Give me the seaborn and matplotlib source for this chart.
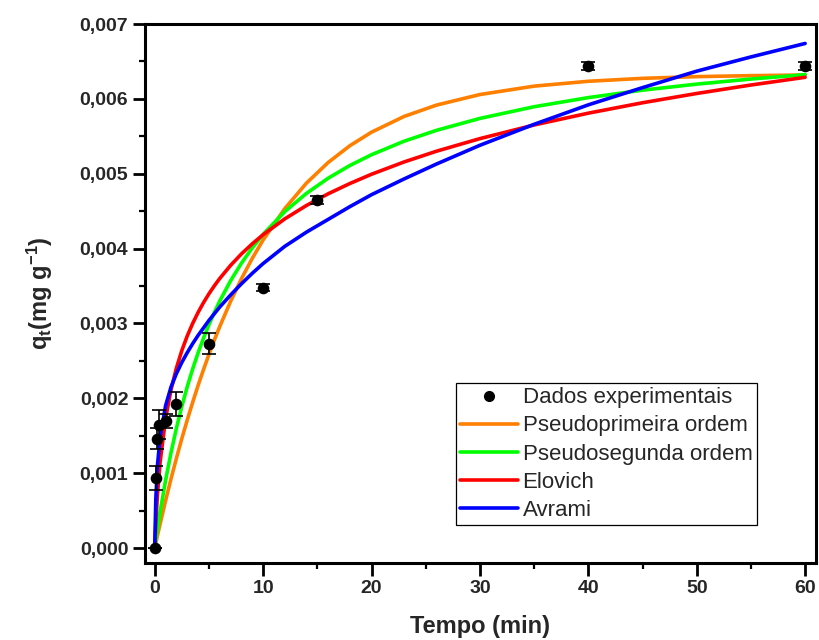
import matplotlib
matplotlib.use("Agg")
import matplotlib.pyplot as plt
import seaborn as sns
import pandas as pd
from matplotlib.ticker import MultipleLocator, FuncFormatter
from matplotlib.lines import Line2D

# ---------------- data ----------------
t_exp = [0, 0.08, 0.25, 0.42, 1, 2, 5, 10, 15, 40, 60]
q_exp = [0.0, 0.00094, 0.00146, 0.00165, 0.00170, 0.00193, 0.00273,
         0.00348, 0.00465, 0.00644, 0.00644]
q_err = [0.0, 0.00016, 0.00014, 0.00020, 0.00009, 0.00016, 0.00014,
         0.00005, 0.00005, 0.00005, 0.00005]

t_fit = [0, 0.1, 0.25, 0.5, 1, 1.5, 2, 2.5, 3, 3.5, 4, 4.5, 5, 5.5, 6, 7,
         8, 9, 10, 12, 14, 16, 18, 20, 23, 26, 30, 35, 40, 45, 50, 55, 60]
q_pfo = [0, 0.000066, 0.000164, 0.000324, 0.000631, 0.000922, 0.001199,
         0.001462, 0.001710, 0.001946, 0.002171, 0.002383, 0.002586,
         0.002778, 0.002959, 0.003295, 0.003597, 0.003870, 0.004115,
         0.004534, 0.004875, 0.005150, 0.005374, 0.005555, 0.005765,
         0.005917, 0.006058, 0.006170, 0.006235, 0.006274, 0.006297,
         0.006310, 0.006319]
q_pso = [0, 0.000102, 0.000250, 0.000482, 0.000903, 0.001272, 0.001600,
         0.001892, 0.002155, 0.002392, 0.002607, 0.002804, 0.002983,
         0.003148, 0.003300, 0.003571, 0.003805, 0.004010, 0.004190,
         0.004494, 0.004738, 0.004940, 0.005110, 0.005254, 0.005434,
         0.005580, 0.005739, 0.005895, 0.006017, 0.006116, 0.006197,
         0.006265, 0.006323]
q_elo = [0, 0.000337, 0.000711, 0.001153, 0.001727, 0.002113, 0.002404,
         0.002638, 0.002833, 0.003000, 0.003147, 0.003278, 0.003396,
         0.003503, 0.003601, 0.003776, 0.003929, 0.004064, 0.004186,
         0.004397, 0.004576, 0.004732, 0.004869, 0.004993, 0.005157,
         0.005301, 0.005469, 0.005651, 0.005809, 0.005948, 0.006072,
         0.006185, 0.006288]
q_avr = [0, 0.00065, 0.00110, 0.00148, 0.00190, 0.00215, 0.00233,
         0.00248, 0.00261, 0.00273, 0.00284, 0.00294, 0.00304, 0.00313,
         0.00322, 0.00338, 0.00353, 0.00367, 0.00380, 0.00403, 0.00422,
         0.00439, 0.00456, 0.00472, 0.00493, 0.00513, 0.00538, 0.00566,
         0.00592, 0.00615, 0.00637, 0.00656, 0.00674]

labels = ["Dados experimentais", "Pseudoprimeira ordem",
          "Pseudosegunda ordem", "Elovich", "Avrami"]
colors = ["#000000", "#FF8000", "#00FF00", "#FF0000", "#0000FF"]
x_ticks = [0, 10, 20, 30, 40, 50, 60]
y_ticks = [0.000, 0.001, 0.002, 0.003, 0.004, 0.005, 0.006, 0.007]

# ---------------- style ----------------
sns.set_style("ticks")
plt.rcParams["font.family"] = ["Liberation Sans", "DejaVu Sans"]
plt.rcParams["mathtext.fontset"] = "custom"
plt.rcParams["mathtext.rm"] = "Liberation Sans"
plt.rcParams["mathtext.it"] = "Liberation Sans:italic"
plt.rcParams["mathtext.bf"] = "Liberation Sans:bold"

fig = plt.figure(figsize=(8.19, 6.40), dpi=100)
ax = fig.add_axes([0.177, 0.1203, 0.8193, 0.8422])

fits = pd.DataFrame({"t": t_fit, labels[1]: q_pfo, labels[2]: q_pso,
                     labels[3]: q_elo, labels[4]: q_avr})
for lab, col in zip(labels[1:], colors[1:]):
    sns.lineplot(data=fits, x="t", y=lab, color=col, linewidth=2.6,
                 estimator=None, sort=False, ax=ax, legend=False, zorder=3)

ax.errorbar(t_exp, q_exp, yerr=q_err, fmt="none", ecolor="black",
            elinewidth=1.2, capsize=5, capthick=1.2, zorder=4)
exp_df = pd.DataFrame({"t": t_exp, "q": q_exp})
sns.scatterplot(data=exp_df, x="t", y="q", color="black", s=70,
                edgecolor="black", linewidth=0, ax=ax, zorder=5, legend=False)

ax.set_xlim(-0.9, 61)
ax.set_ylim(-0.0002, 0.007)
ax.set_xticks(x_ticks)
ax.set_yticks(y_ticks)
ax.xaxis.set_minor_locator(MultipleLocator(5))
ax.yaxis.set_minor_locator(MultipleLocator(0.0005))
ax.yaxis.set_major_formatter(FuncFormatter(lambda v, p: f"{v:.3f}".replace(".", ",")))
ax.xaxis.set_major_formatter(FuncFormatter(lambda v, p: f"{v:.0f}"))

for s in ax.spines.values():
    s.set_linewidth(2.2)
    s.set_color("black")
ax.tick_params(which="major", length=9, width=2, direction="out",
               labelsize=14, pad=3, color="black")
ax.tick_params(which="minor", length=4.5, width=1.6, direction="out",
               color="black")
ax.tick_params(top=False, right=False, which="both")
for lbl in ax.get_xticklabels() + ax.get_yticklabels():
    lbl.set_fontweight("bold")

ax.set_xlabel("Tempo (min)", fontsize=17, fontweight="bold", labelpad=13)
ax.set_ylabel(r"$\mathbf{q_t}$" + "(mg g" + r"$^{\mathbf{-1}}$" + ")",
              fontsize=17, fontweight="bold", labelpad=18)

handles = [Line2D([], [], marker="o", color="black", linestyle="none",
                  markersize=7)]
handles += [Line2D([], [], color=c, linewidth=2.6) for c in colors[1:]]
leg = ax.legend(handles, labels, loc="lower right",
                bbox_to_anchor=(0.912, 0.07), fontsize=16,
                frameon=True, fancybox=False, framealpha=1,
                edgecolor="black", handlelength=2.6, handletextpad=0.2,
                labelspacing=0.32, borderpad=0.2, borderaxespad=0)
leg.get_frame().set_linewidth(0.9)

fig.savefig("out.png", dpi=100)
